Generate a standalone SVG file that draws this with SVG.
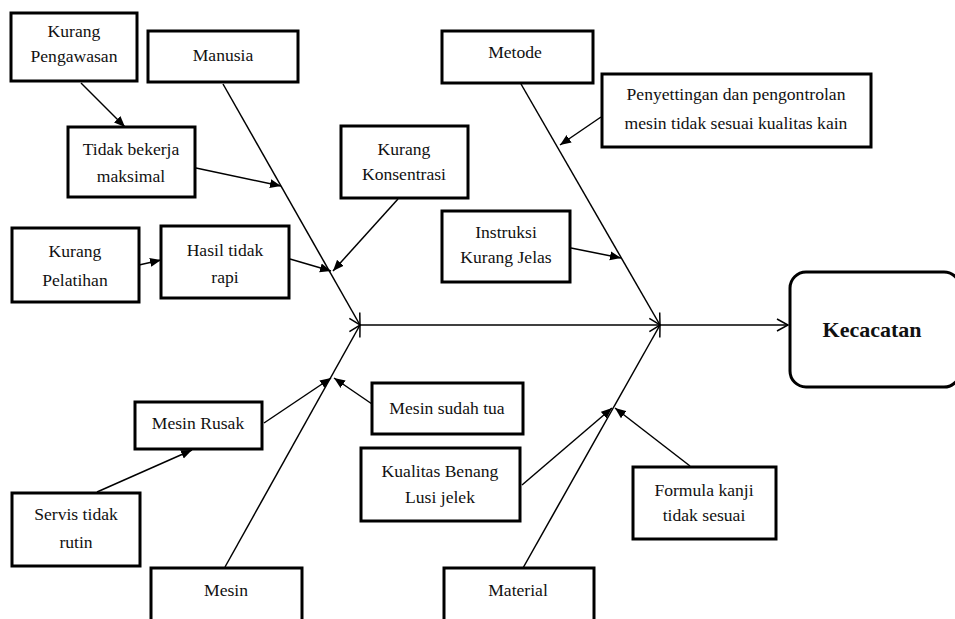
<svg xmlns="http://www.w3.org/2000/svg" width="955" height="619" viewBox="0 0 955 619">
<style>
.box{fill:#fff;stroke:#000;stroke-width:3}
.t{font-family:"Liberation Serif","Times New Roman","DejaVu Serif",serif;font-size:17.6px;fill:#111;text-anchor:middle}
.tb{font-family:"Liberation Serif","Times New Roman","DejaVu Serif",serif;font-size:22px;font-weight:bold;fill:#111;text-anchor:middle}
.c{fill:none;stroke:#000;stroke-width:1.5}
.f{marker-end:url(#fa)}
.o{marker-end:url(#oa)}
</style>
<defs>
<marker id="fa" markerUnits="userSpaceOnUse" markerWidth="12" markerHeight="10" refX="11" refY="5" orient="auto">
<path d="M0,0.5 L11,5 L0,9.5 z" fill="#000"/>
</marker>
<marker id="oa" markerUnits="userSpaceOnUse" markerWidth="14" markerHeight="14" refX="12" refY="7" orient="auto">
<path d="M1,1 L12,7 L1,13" fill="none" stroke="#000" stroke-width="1.5"/>
</marker>
</defs>
<rect width="955" height="619" fill="#fff"/>
<g id="connectors">
<line class="c o" x1="360" y1="325" x2="788" y2="325"/>
<line class="c o" x1="223" y1="84" x2="360" y2="325"/>
<line class="c o" x1="521" y1="84" x2="660" y2="325"/>
<line class="c o" x1="225" y1="567" x2="360" y2="325"/>
<line class="c o" x1="523" y1="568" x2="660" y2="325"/>
<line class="c f" x1="81" y1="83" x2="125" y2="127"/>
<line class="c f" x1="196" y1="168" x2="281" y2="186"/>
<line class="c f" x1="139" y1="265" x2="161" y2="260"/>
<line class="c f" x1="290" y1="259" x2="331" y2="271"/>
<line class="c f" x1="398" y1="199" x2="333" y2="271"/>
<line class="c f" x1="571" y1="248" x2="621" y2="258"/>
<line class="c f" x1="601" y1="117" x2="560" y2="145"/>
<line class="c f" x1="97" y1="492" x2="192" y2="450"/>
<line class="c f" x1="264" y1="423" x2="331" y2="378"/>
<line class="c f" x1="372" y1="404" x2="334" y2="378"/>
<line class="c f" x1="522" y1="485" x2="612" y2="408"/>
<line class="c f" x1="690" y1="466" x2="615" y2="408"/>
</g>
<g id="kurang-pengawasan"><rect class="box" x="11" y="13" width="126" height="68"/><text class="t" x="74" y="37">Kurang</text><text class="t" x="74" y="62">Pengawasan</text></g>
<g id="manusia"><rect class="box" x="148" y="31" width="150" height="51"/><text class="t" x="223" y="61">Manusia</text></g>
<g id="tidak-bekerja"><rect class="box" x="68" y="127" width="127" height="70"/><text class="t" x="131" y="155">Tidak bekerja</text><text class="t" x="131" y="182">maksimal</text></g>
<g id="kurang-pelatihan"><rect class="box" x="12" y="228" width="127" height="74"/><text class="t" x="75" y="257">Kurang</text><text class="t" x="75" y="286">Pelatihan</text></g>
<g id="hasil-tidak-rapi"><rect class="box" x="161" y="226" width="128" height="72"/><text class="t" x="225" y="256">Hasil tidak</text><text class="t" x="225" y="283">rapi</text></g>
<g id="kurang-konsentrasi"><rect class="box" x="341" y="126" width="127" height="72"/><text class="t" x="404" y="155">Kurang</text><text class="t" x="404" y="180">Konsentrasi</text></g>
<g id="metode"><rect class="box" x="442" y="31" width="151" height="52"/><text class="t" x="515" y="58">Metode</text></g>
<g id="penyettingan"><rect class="box" x="602" y="74" width="269" height="73"/><text class="t" x="736" y="100">Penyettingan dan pengontrolan</text><text class="t" x="736" y="129">mesin tidak sesuai kualitas kain</text></g>
<g id="instruksi"><rect class="box" x="442" y="211" width="128" height="71"/><text class="t" x="506" y="238">Instruksi</text><text class="t" x="506" y="263">Kurang Jelas</text></g>
<g id="kecacatan"><rect x="790" y="272" width="170" height="115" rx="16" fill="#fff" stroke="#000" stroke-width="3"/><text class="tb" x="872" y="337">Kecacatan</text></g>
<g id="mesin-rusak"><rect class="box" x="135" y="402" width="127" height="47"/><text class="t" x="198" y="429">Mesin Rusak</text></g>
<g id="servis"><rect class="box" x="12" y="493" width="128" height="73"/><text class="t" x="76" y="520">Servis tidak</text><text class="t" x="76" y="548">rutin</text></g>
<g id="mesin"><rect class="box" x="151" y="568" width="151" height="60"/><text class="t" x="226" y="596">Mesin</text></g>
<g id="mesin-sudah-tua"><rect class="box" x="372" y="383" width="151" height="51"/><text class="t" x="447" y="414">Mesin sudah tua</text></g>
<g id="kualitas-benang"><rect class="box" x="361" y="448" width="159" height="73"/><text class="t" x="440" y="477">Kualitas Benang</text><text class="t" x="440" y="503">Lusi jelek</text></g>
<g id="formula-kanji"><rect class="box" x="633" y="467" width="143" height="72"/><text class="t" x="704" y="496">Formula kanji</text><text class="t" x="704" y="521">tidak sesuai</text></g>
<g id="material"><rect class="box" x="444" y="568" width="150" height="60"/><text class="t" x="518" y="596">Material</text></g>
</svg>
